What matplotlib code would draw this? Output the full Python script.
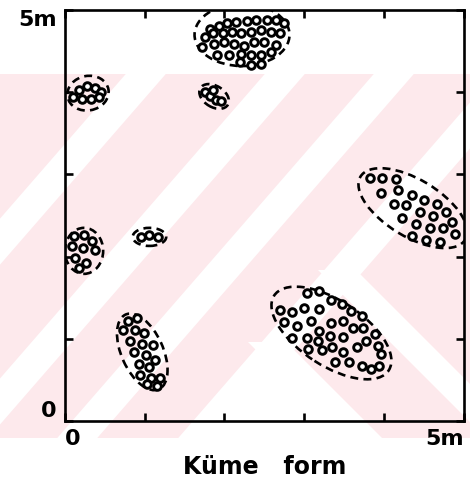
import matplotlib.pyplot as plt
from matplotlib.patches import Ellipse, Rectangle, Polygon

# cluster points (m)
c1_x = [1.82, 1.93, 2.03, 2.14, 2.28, 2.40, 2.53, 2.65, 2.75,
        1.75, 1.85, 1.98, 2.09, 2.21, 2.33, 2.46, 2.58, 2.70,
        1.72, 1.87, 2.00, 2.12, 2.25, 2.37, 2.50, 2.64,
        1.91, 2.06, 2.21, 2.33, 2.46, 2.58,
        2.19, 2.33, 2.46]
c1_y = [4.77, 4.81, 4.84, 4.86, 4.87, 4.88, 4.88, 4.88, 4.84,
        4.67, 4.72, 4.72, 4.74, 4.72, 4.74, 4.76, 4.74, 4.72,
        4.55, 4.59, 4.61, 4.59, 4.57, 4.61, 4.61, 4.58,
        4.45, 4.45, 4.47, 4.46, 4.45, 4.49,
        4.37, 4.33, 4.35]

c2_x = [0.10, 0.18, 0.28, 0.38, 0.45, 0.21, 0.33, 0.43]
c2_y = [3.94, 4.03, 4.08, 4.05, 4.00, 3.92, 3.92, 3.94]

c3_x = [1.75, 1.82, 1.90, 1.85, 1.96]
c3_y = [4.00, 3.95, 3.91, 4.03, 3.89]

c4_x = [3.82, 3.98, 4.15, 4.18, 3.96, 4.35, 4.12, 4.28, 4.50, 4.66, 4.45,
        4.61, 4.77, 4.85, 4.23, 4.40, 4.57, 4.74, 4.89, 4.35, 4.52, 4.70]
c4_y = [2.96, 2.96, 2.94, 2.81, 2.77, 2.75, 2.64, 2.63, 2.69, 2.64, 2.54,
        2.49, 2.54, 2.42, 2.47, 2.40, 2.35, 2.35, 2.27, 2.25, 2.20, 2.18]

c5_x = [0.11, 0.24, 0.34, 0.09, 0.23, 0.38, 0.13, 0.26, 0.18]
c5_y = [2.25, 2.26, 2.19, 2.13, 2.10, 2.08, 1.98, 1.92, 1.86]

c6_x = [0.95, 1.06, 1.17]
c6_y = [2.24, 2.26, 2.24]

c7_x = [0.79, 0.90, 0.73, 0.88, 0.99, 0.82, 0.97, 1.11, 0.87,
        1.02, 1.13, 0.93, 1.06, 0.94, 1.08, 1.19, 1.03, 1.16]
c7_y = [1.22, 1.25, 1.11, 1.11, 1.07, 0.97, 0.94, 0.92, 0.84,
        0.80, 0.74, 0.69, 0.66, 0.56, 0.52, 0.52, 0.45, 0.43]

c8_x = [3.04, 3.19, 3.33, 3.47, 3.58, 3.72,
        2.69, 2.84, 3.00, 3.18,
        2.74, 2.91, 3.08, 3.18, 3.34, 3.48, 3.61, 3.74, 3.89,
        2.85, 3.03, 3.17, 3.32, 3.48, 3.77, 3.92,
        3.05, 3.22, 3.35, 3.49, 3.66, 3.96,
        3.39, 3.56, 3.72, 3.84, 3.94]
c8_y = [1.56, 1.58, 1.47, 1.42, 1.34, 1.28,
        1.35, 1.33, 1.37, 1.36,
        1.20, 1.16, 1.22, 1.09, 1.19, 1.22, 1.13, 1.13, 1.06,
        1.01, 1.01, 0.97, 1.03, 1.02, 0.97, 0.91,
        0.88, 0.86, 0.90, 0.84, 0.90, 0.82,
        0.72, 0.72, 0.67, 0.63, 0.67]

# cluster outlines: centre x, centre y, width, height, angle
ell_cx = [2.22, 0.29, 1.87, 4.36, 0.24, 1.06, 0.97, 3.34]
ell_cy = [4.70, 3.99, 3.95, 2.59, 2.07, 2.24, 0.84, 1.07]
ell_w = [1.19, 0.52, 0.40, 1.52, 0.48, 0.42, 1.00, 1.70]
ell_h = [0.76, 0.42, 0.26, 0.70, 0.56, 0.22, 0.52, 0.80]
ell_ang = [0, 10, -30, -30, 0, 0, -65, -32]

fig = plt.figure(figsize=(4.7, 4.86), dpi=100)

# pale pink watermark behind the figure
bg = fig.add_axes([0, 0, 1, 1], zorder=0)
bg.set_xlim(0, 470)
bg.set_ylim(486, 0)
bg.axis('off')
band = Rectangle((0, 74), 470, 364, color='#fde9ec', lw=0)
bg.add_patch(band)
for c in [71, 210, 319, 440]:
    w = 40
    top = c - w / 2 + (160 - 74) / 1.15
    bot = c - w / 2 - (438 - 160) / 1.15
    p = Polygon([(top, 74), (top + w, 74), (bot + w, 438), (bot, 438)],
                color='white', lw=0)
    bg.add_patch(p)
    p.set_clip_path(band)
# chevron arms going down to the right
for px, py in [(337, 270), (267, 342)]:
    w = 38
    p = Polygon([(px - w / 2, py), (px + w / 2, py),
                 (px + w / 2 + 200, py + 200), (px - w / 2 + 200, py + 200)],
                color='white', lw=0)
    bg.add_patch(p)
    p.set_clip_path(band)
tri = Polygon([(267, 342), (180, 438), (367, 438)], color='white', lw=0)
bg.add_patch(tri)
tri.set_clip_path(band)

ax = fig.add_axes([0.138, 0.134, 0.849, 0.845], zorder=1)
ax.patch.set_alpha(0)

for xs, ys in [(c1_x, c1_y), (c2_x, c2_y), (c3_x, c3_y), (c4_x, c4_y),
               (c5_x, c5_y), (c6_x, c6_y), (c7_x, c7_y), (c8_x, c8_y)]:
    ax.scatter(xs, ys, s=30, facecolors='white', edgecolors='black',
               linewidths=2.1, zorder=3)

for i in range(len(ell_cx)):
    e = Ellipse((ell_cx[i], ell_cy[i]), ell_w[i], ell_h[i], angle=ell_ang[i],
                fill=False, edgecolor='black', lw=1.9, linestyle=(0, (3, 2)))
    ax.add_patch(e)

ax.set_xlim(0, 5)
ax.set_ylim(0, 5)
for s in ax.spines.values():
    s.set_linewidth(1.9)

ax.set_xticks([0, 1, 2, 3, 4, 5])
ax.set_xticklabels(['0', '', '', '', '', '5m'], fontsize=16, fontweight='bold')
ax.set_yticks([0, 1, 2, 3, 4, 5])
ax.set_yticklabels(['0', '', '', '', '', '5m'], fontsize=16, fontweight='bold')
ax.tick_params(direction='in', length=6, width=1.9, top=True, right=True, pad=6)
xl = ax.get_xticklabels()
xl[0].set_ha('left')
xl[-1].set_ha('right')
yl = ax.get_yticklabels()
yl[0].set_va('bottom')
yl[-1].set_va('top')

ax.set_xlabel('Küme   form', fontsize=17, fontweight='bold', labelpad=4)

fig.savefig('out.png', dpi=100)
